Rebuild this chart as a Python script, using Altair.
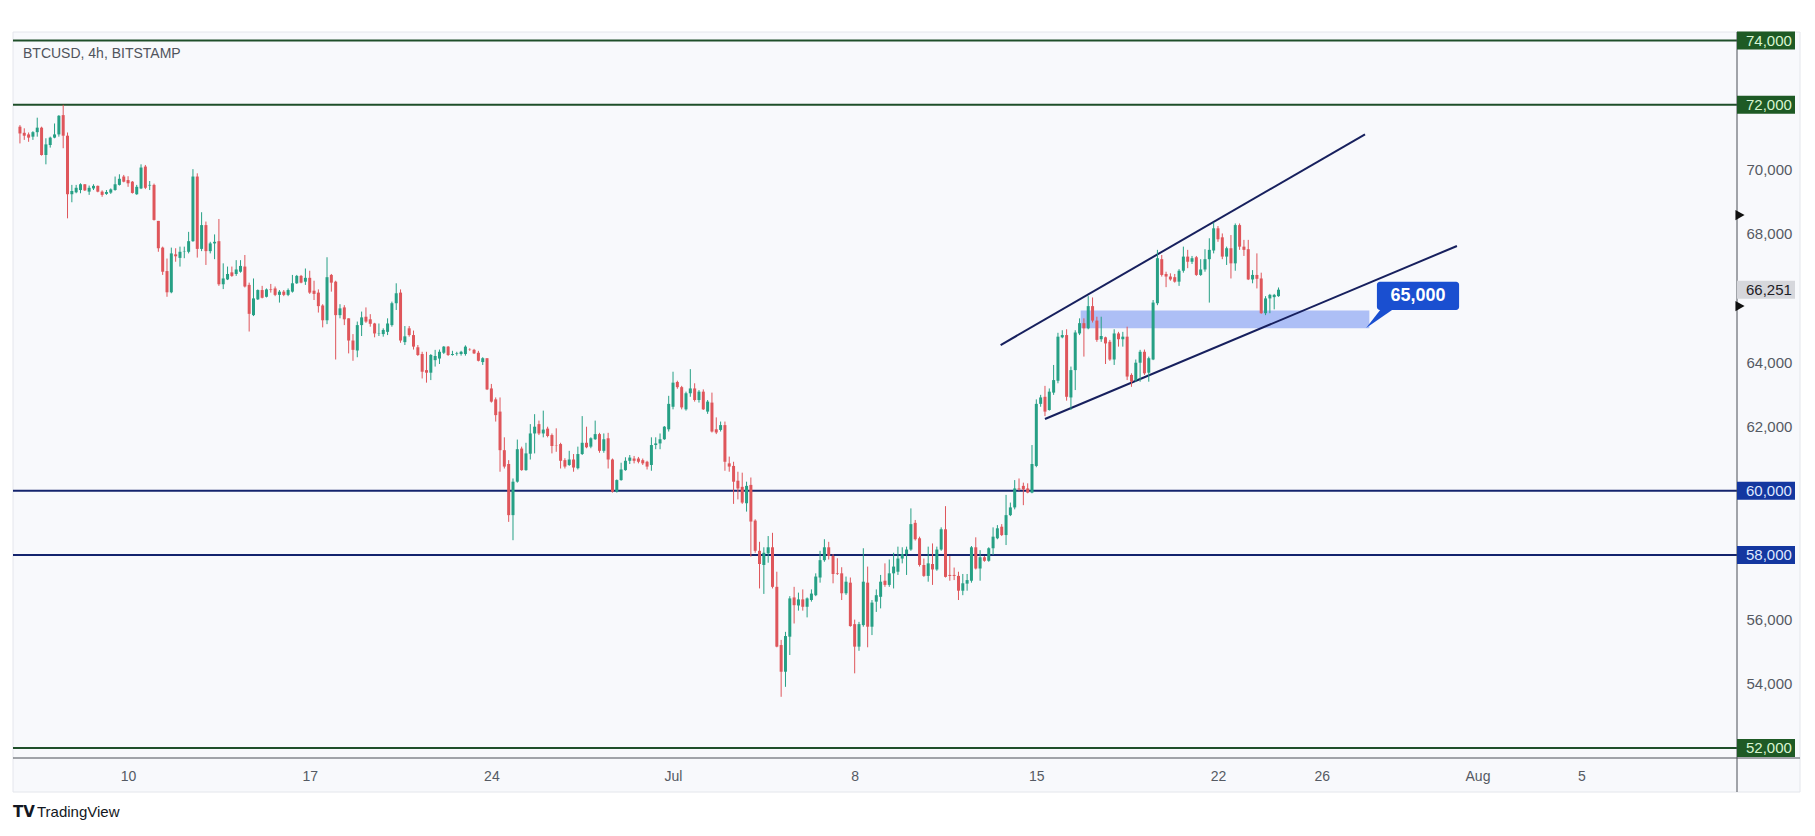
import altair as alt
import pandas as pd

# ---------------- data ----------------
OPEN = [
71320,71130,71080,71010,71150,71290,70440,70750,70980,71080,
71680,71040,69220,69280,69350,69530,69300,69400,69480,69300,
69230,69270,69350,69510,69770,69660,69610,69220,69400,70080,
69490,69510,68390,67560,66830,66170,67350,67240,67430,67430,
67760,69770,67520,68260,67450,67690,67760,66420,66570,66790,
66740,66810,66970,66400,65460,65950,66240,66030,66260,66290,
66090,66190,66090,66190,66450,66680,66500,66620,66220,66160,
65760,65300,66710,66500,65460,65700,65360,64670,64360,65150,
65410,65330,65200,64890,64870,64940,65150,65830,66160,64620,
65050,64840,64460,64250,63750,63670,64060,64110,64290,64480,
64220,64250,64250,64250,64390,64380,64290,64000,64120,63180,
62840,62460,61260,60830,59240,60280,61310,60640,61150,61780,
62070,61780,61930,61730,61400,61450,60950,60800,60970,60700,
61140,61490,61370,61600,61760,61240,61630,60970,59970,60330,
60640,60930,61000,61000,60950,60900,60800,61420,61470,61600,
61910,62610,63380,63220,62530,63030,63180,62820,63080,62460,
62740,61910,61890,62040,60850,60770,60310,60120,59610,60180,
59070,58130,57690,58050,58240,57010,55200,54370,55460,56680,
56430,56620,56390,56600,56750,57300,57840,58240,57970,57430,
57430,56810,57140,55850,55150,55820,57140,55770,56550,56700,
57200,57070,57430,57480,57890,58030,58170,59000,58520,57690,
57350,57720,57550,58170,58800,57380,57380,57350,56890,57110,
57200,58240,57580,57930,57820,58210,58520,58880,58620,59240,
59480,60070,60150,60070,59940,60770,62700,62920,62510,63050,
63420,64770,64840,62900,63750,64890,65210,65050,65740,65290,
64710,64770,64630,64080,64890,64710,64790,63600,63440,63980,
64320,63670,64080,65830,67200,66740,66660,66640,66500,66840,
67280,67120,67260,66710,66880,67200,67470,68160,67880,67280,
67540,67070,68260,67590,67510,66570,66710,66600,65520,65980,
66020,66050]

HIGH = [
71370,71270,71140,71180,71600,71320,70960,71010,71420,71680,
72000,71140,69510,69510,69560,69530,69490,69530,69490,69340,
69350,69400,69770,69840,69820,69780,69630,69510,70150,70130,
69630,69550,68390,67590,67220,67560,67540,67590,67590,68050,
70000,69870,68660,68370,67740,67970,68450,67070,66970,66970,
67170,67170,67330,66470,66600,66260,66370,66290,66430,66350,
66240,66240,66290,66710,66710,66710,66910,66840,66530,66260,
65800,67260,66740,66530,65800,65770,65360,64870,65260,65570,
65700,65490,65220,65200,65050,65360,65880,66450,66260,65120,
65120,64980,64530,64320,64320,64250,64380,64390,64500,64500,
64350,64320,64350,64520,64430,64410,64350,64150,64120,63320,
62900,62900,61660,60950,60380,61590,61370,61490,62070,62380,
62180,62490,61990,61780,61940,61490,61010,61240,61140,61370,
62320,61990,61660,62180,61800,61780,61800,61000,60350,60870,
61040,61110,61080,61050,61000,60930,61660,61660,61780,62010,
62950,63700,63420,63260,63080,63780,63340,63130,63150,62820,
63050,62280,62150,62150,61060,60900,60590,60560,60280,60410,
59110,58410,58240,58590,58690,57480,55360,55610,56720,57010,
56830,56930,56680,56930,57430,58130,58490,58410,58030,57900,
57620,57330,57300,55990,55920,58210,57640,56600,56930,57380,
57740,57860,58070,58260,58240,58260,59450,59090,58570,57890,
58260,58360,58260,58860,59520,57970,57610,57480,57410,57410,
58280,58550,58150,57970,58240,58860,58930,58960,59870,59630,
60330,60380,60250,60230,61420,62840,62980,63260,63180,63910,
64910,64990,65020,63860,64990,65360,65360,66050,66010,65410,
65410,64790,64690,65020,64940,64940,65100,63650,64080,64380,
64390,64170,65930,67490,67330,66810,66760,66740,66890,67590,
67490,67300,67300,67200,67510,67850,68340,68230,68000,67590,
67950,68310,68310,67800,67800,66860,67380,66780,66050,66120,
66120,66320]

LOW = [
70800,70910,70850,70910,71010,70420,70150,70670,70960,71010,
70650,68470,68970,69250,69250,69320,69200,69350,69280,69140,
69200,69230,69330,69490,69590,69450,69240,69200,69380,69380,
69350,68400,67430,66710,66030,66140,67120,66970,67230,67380,
67740,67250,67450,67020,67380,67200,66370,66270,66550,66650,
66680,66780,66320,64950,65430,65930,65980,66010,66160,66050,
65850,66050,66050,66160,66430,66450,66400,66120,65930,65540,
65080,65180,66190,64080,65360,65150,64270,64040,64150,64810,
65220,65100,64770,64810,64790,64840,65100,65620,64600,64530,
64790,64390,64190,63490,63360,63440,63860,63940,64250,64190,
64200,64200,64200,64200,64350,64250,64020,63910,63130,62740,
62150,60590,60690,59030,58460,60250,60620,60620,60970,61160,
61730,61660,61660,61160,61210,60690,60690,60770,60590,60660,
61110,61320,61320,61580,61180,61180,60690,59940,59940,60310,
60620,60830,60850,60850,60800,60660,60620,61290,61290,61580,
61840,62530,63170,62530,62490,62920,62770,62740,62510,62390,
61810,61760,61840,60620,60590,59590,59730,59590,59350,57950,
58070,56960,56790,57760,56960,55130,53590,53900,54890,55870,
56270,56270,56060,56550,56720,57140,57790,57860,57120,57380,
56600,56760,55770,54320,55020,55770,55130,55510,56230,56340,
57010,57010,56960,57380,57740,57380,58130,58450,57640,57320,
57170,57070,57510,58130,57300,57200,57220,56600,56750,56890,
57140,57550,57200,57790,57790,58000,58490,58590,58310,59210,
59420,60000,59550,59920,59920,60730,62610,62320,62490,62980,
63340,64740,62800,62510,63130,64840,64170,65020,65230,64630,
64630,63940,64040,63910,64480,64480,63440,63230,63390,63390,
63600,63390,64060,65770,66660,66330,66530,66470,66370,66780,
66920,67050,66680,66680,66810,65850,67380,67740,67200,67020,
66600,66840,67490,67300,66550,66450,66290,65500,65460,65520,
65640,66030]

CLOSE = [
71110,71040,70980,71150,71290,70440,70770,70980,71080,71660,
71040,69220,69320,69420,69530,69340,69420,69480,69300,69200,
69290,69370,69530,69700,69610,69560,69260,69450,70050,69420,
69510,68420,67540,66810,66170,67380,67290,67430,67440,67760,
69770,67520,68260,67450,67690,67740,66420,66600,66740,66680,
66880,66990,66350,65500,65980,66240,66000,66260,66240,66090,
66190,66090,66240,66450,66680,66470,66620,66160,66120,65740,
65300,66640,66470,65460,65670,65330,64670,64380,65150,65390,
65260,65190,64890,64900,65000,65200,65830,66140,64670,64800,
64840,64480,64220,63700,63670,64220,64190,64320,64480,64220,
64250,64270,64320,64480,64380,64270,64040,64120,63150,62770,
62350,61260,60750,59240,60280,61290,60640,61160,61780,61990,
61780,61900,61700,61390,61390,60930,60750,60970,60720,61140,
61490,61350,61630,61760,61240,61600,60970,59970,60330,60660,
60930,61030,60930,60900,60850,60750,61420,61470,61600,61990,
62700,63360,63220,62590,63030,63180,62820,63080,62530,62770,
61840,61810,62040,60900,60750,60280,60070,59630,60150,59040,
58130,57720,58070,58240,57010,55150,54370,55480,56650,56440,
56620,56390,56650,56800,57330,57840,58240,57970,57410,57410,
56810,57170,55790,55150,55850,57170,55770,56520,56750,57170,
57070,57430,57640,57890,58030,58170,58960,58490,57690,57350,
57740,57550,58170,58800,57320,57350,57350,56890,57120,57220,
58240,57580,57930,57820,58210,58570,58830,58620,59240,59480,
60070,60040,60040,59940,60830,62700,62900,62460,63080,63440,
64790,64840,62920,63750,64920,65210,65050,65740,65290,64690,
64810,64580,64080,64890,64710,64790,63550,63390,63980,64320,
63650,64120,65850,67230,66710,66660,66570,66500,66840,67280,
67120,67230,66710,66880,67200,67490,68160,67820,67280,67540,
67070,68260,67590,67490,66570,66710,66590,65520,65980,66090,
66090,66251]

FIRST_CANDLE = "2024-06-05 20:00"
CANDLE_HOURS = 4

TICK_DATES = ["2024-06-10", "2024-06-17", "2024-06-24", "2024-07-01", "2024-07-08",
              "2024-07-15", "2024-07-22", "2024-07-26", "2024-08-01", "2024-08-05"]
TICK_LABELS = ["10", "17", "24", "Jul", "8", "15", "22", "26", "Aug", "5"]

LEVELS = [74000, 72000, 60000, 58000, 52000]
LEVEL_COLORS = ["#1f4f2a", "#1f4f2a", "#14246e", "#14246e", "#1f4f2a"]
LEVEL_BOX = ["#1e5a25", "#1e5a25", "#1437a0", "#1437a0", "#1e5a25"]
LEVEL_TEXT = ["#d8f5d2", "#d8f5d2", "#dfe8ff", "#dfe8ff", "#d8f5d2"]

AXIS_PRICES = [54000, 56000, 62000, 64000, 68000, 70000]
LAST_PRICE = 66251
ALERT_PRICES = [68570, 65740]

# channel lines (hours from first candle, price)
CHANNEL_ID = ["upper", "upper", "lower", "lower"]
CHANNEL_H = [907, 1244, 948, 1329]
CHANNEL_P = [64530, 71080, 62230, 67610]

ZONE_H = [981, 1248]
ZONE_P = [65050, 65600]

CALLOUT_TEXT = "65,000"
CALLOUT_H = [1255, 1331]
CALLOUT_P = [65620, 66500]
TAIL_H = [1245, 1258, 1269]
TAIL_TOP = [65060, 65620, 65620]
TAIL_BOT = [65060, 65360, 65620]

TITLE = "BTCUSD, 4h, BITSTAMP"

# ---------------- frames ----------------
start = pd.Timestamp(FIRST_CANDLE)
n = len(CLOSE)
df = pd.DataFrame({
    "h": [i * CANDLE_HOURS for i in range(n)],
    "open": OPEN, "high": HIGH, "low": LOW, "close": CLOSE,
})
df["dir"] = ["up" if c >= o else "down" for o, c in zip(OPEN, CLOSE)]

tick_hours = [int((pd.Timestamp(d) - start) / pd.Timedelta(hours=1)) for d in TICK_DATES]
label_expr = ("[" + ",".join(f"'{l}'" for l in TICK_LABELS) + "][indexof(["
              + ",".join(str(h) for h in tick_hours) + "], datum.value)]")

W, H = 1724, 726
FONT = "Liberation Sans"
GREEN, RED = "#26a085", "#df565b"

xs = alt.Scale(domain=[-1.8, 1583.4], nice=False, zero=False)
ys = alt.Scale(domain=[51687, 74265], nice=False, zero=False)

XAXIS = alt.Axis(
    values=tick_hours, labelExpr=label_expr, title=None, grid=False, ticks=False,
    domain=False, labelFont=FONT, labelFontSize=14, labelColor="#555a63",
    labelPadding=11, labelFlush=False, zindex=2)
YAXIS = alt.Axis(
    orient="right", values=AXIS_PRICES, format=",d", title=None, grid=False,
    ticks=False, domain=False, labelFont=FONT, labelFontSize=15,
    labelColor="#555a63", labelPadding=9, labelAlign="left", labelFlush=False, zindex=2)

X = lambda f: alt.X(f, type="quantitative", scale=xs, axis=XAXIS)
Y = lambda f: alt.Y(f, type="quantitative", scale=ys, axis=YAXIS)

one = pd.DataFrame({"a": [0]})

# background strips (axis areas)
frame = alt.Chart(one).mark_rect(
    fill="#f8f9fc", stroke="#e4e6ec", strokeWidth=1
).encode(x=alt.value(0), x2=alt.value(W + 63), y=alt.value(0), y2=alt.value(H + 34))

axis_lines = alt.layer(
    alt.Chart(one).mark_rule(color="#4a4e57", strokeWidth=1).encode(
        x=alt.value(0), x2=alt.value(W + 63), y=alt.value(H)),
    alt.Chart(one).mark_rule(color="#4a4e57", strokeWidth=1).encode(
        x=alt.value(W), y=alt.value(0), y2=alt.value(H + 34)),
)

lv = pd.DataFrame({"p": LEVELS, "c": LEVEL_COLORS, "b": LEVEL_BOX, "t": LEVEL_TEXT,
                   "lab": [f"{v:,}" for v in LEVELS]})
level_lines = alt.Chart(lv).mark_rule(strokeWidth=2).encode(
    y=Y("p"), x=alt.value(0), x2=alt.value(W), color=alt.Color("c:N", scale=None))

zone = alt.Chart(pd.DataFrame({"h1": [ZONE_H[0]], "h2": [ZONE_H[1]],
                               "p1": [ZONE_P[0]], "p2": [ZONE_P[1]]})).mark_rect(
    fill="#6f8ff0", opacity=0.55).encode(x=X("h1"), x2="h2", y=Y("p1"), y2="p2")

chan = alt.Chart(pd.DataFrame({"id": CHANNEL_ID, "h": CHANNEL_H, "p": CHANNEL_P})).mark_line(
    color="#17205e", strokeWidth=2).encode(x=X("h"), y=Y("p"), detail="id:N")

col = alt.Color("dir:N", scale=alt.Scale(domain=["up", "down"], range=[GREEN, RED]), legend=None)
wicks = alt.Chart(df).mark_rule(strokeWidth=1).encode(x=X("h"), y=Y("low"), y2="high", color=col)
bodies = alt.Chart(df).mark_bar(size=3).encode(x=X("h"), y=Y("open"), y2="close", color=col)

callout_box = alt.Chart(pd.DataFrame({"h1": [CALLOUT_H[0]], "h2": [CALLOUT_H[1]],
                                      "p1": [CALLOUT_P[0]], "p2": [CALLOUT_P[1]]})).mark_rect(
    fill="#1a4fd0", cornerRadius=3).encode(x=X("h1"), x2="h2", y=Y("p1"), y2="p2")
tail = alt.Chart(pd.DataFrame({"h": TAIL_H, "t": TAIL_TOP, "b": TAIL_BOT})).mark_area(
    color="#1a4fd0").encode(x=X("h"), y=Y("t"), y2="b")
callout_text = alt.Chart(pd.DataFrame({"h": [sum(CALLOUT_H) / 2], "p": [sum(CALLOUT_P) / 2],
                                       "t": [CALLOUT_TEXT]})).mark_text(
    font=FONT, fontSize=18, fontWeight="bold", color="white", baseline="middle").encode(
    x=X("h"), y=Y("p"), text="t:N")

level_boxes = alt.Chart(lv).mark_rect(yOffset=-9, y2Offset=9).encode(
    y=Y("p"), y2="p", x=alt.value(W), x2=alt.value(W + 58), color=alt.Color("b:N", scale=None))
level_text = alt.Chart(lv).mark_text(font=FONT, fontSize=15, align="left", baseline="middle").encode(
    y=Y("p"), x=alt.value(W + 9), text="lab:N", color=alt.Color("t:N", scale=None))

last = pd.DataFrame({"p": [LAST_PRICE], "lab": [f"{LAST_PRICE:,}"]})
last_box = alt.Chart(last).mark_rect(yOffset=-9, y2Offset=9, fill="#d6d7dc").encode(
    y=Y("p"), y2="p", x=alt.value(W), x2=alt.value(W + 58))
last_text = alt.Chart(last).mark_text(font=FONT, fontSize=15, align="left", baseline="middle",
                                      color="#1e2026").encode(
    y=Y("p"), x=alt.value(W + 9), text="lab:N")

alerts = alt.Chart(pd.DataFrame({"p": ALERT_PRICES})).mark_point(
    shape="triangle-right", size=110, filled=True, color="#111111", opacity=1).encode(
    y=Y("p"), x=alt.value(W + 3))

title = alt.Chart(pd.DataFrame({"t": [TITLE]})).mark_text(
    font=FONT, fontSize=14, align="left", baseline="middle", color="#50545c").encode(
    x=alt.value(10), y=alt.value(22), text="t:N")

logo = alt.layer(
    alt.Chart(pd.DataFrame({"t": ["TV"]})).mark_text(
        font="DejaVu Sans", fontSize=15, fontWeight="bold", align="left", baseline="middle",
        color="#131722").encode(x=alt.value(0), y=alt.value(780), text="t:N"),
    alt.Chart(pd.DataFrame({"t": ["TradingView"]})).mark_text(
        font=FONT, fontSize=15, align="left", baseline="middle", color="#131722").encode(
        x=alt.value(24), y=alt.value(780), text="t:N"),
)

chart = alt.layer(
    frame, level_lines, zone, chan, wicks, bodies, axis_lines,
    tail, callout_box, callout_text, level_boxes, level_text, last_box, last_text,
    alerts, title, logo,
).properties(
    width=W, height=H,
    padding={"left": 13, "top": 32, "right": 78, "bottom": 78},
    autosize=alt.AutoSizeParams(type="none"),
    background="white",
).configure_view(fill="#f9fafd", stroke=None)

chart.save("out.html", embed_options={"renderer": "svg", "actions": False})
